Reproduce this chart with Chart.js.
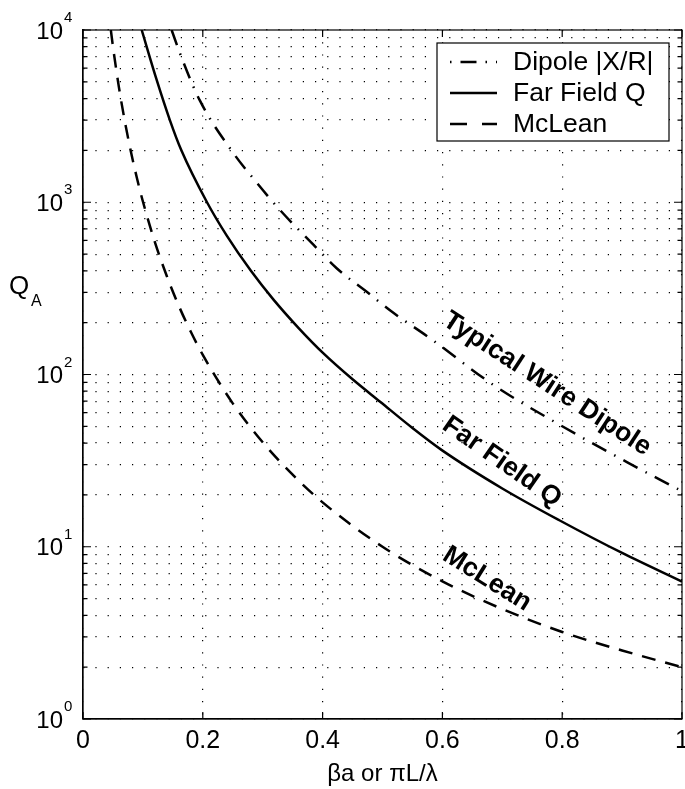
<!DOCTYPE html>
<html>
<head>
<meta charset="utf-8">
<script src="https://cdn.jsdelivr.net/npm/chart.js@4.4.1/dist/chart.umd.min.js"></script>
<style>
  html,body{margin:0;padding:0;background:#fff;}
  #wrap{width:685px;height:789px;}
</style>
</head>
<body>
<div id="wrap"><canvas id="qChart"></canvas></div>
<script>
// values (x = beta*a, y = Q on a log axis)
const dipoleX   = [0.148, 0.162, 0.195, 0.251, 0.284, 0.329, 0.385, 0.423, 0.479, 0.513, 0.582, 0.685, 0.796, 0.908, 1.0];
const dipoleQ   = [10000, 7300, 3900, 1930, 1377, 900, 565, 415, 292, 235, 160, 87, 51, 31, 21];

const farFieldX = [0.098, 0.123, 0.145, 0.164, 0.207, 0.24, 0.28, 0.318, 0.36, 0.401, 0.45, 0.496, 0.55, 0.599, 0.7, 0.796, 0.9, 1.0];
const farFieldQ = [10000, 5130, 3000, 2010, 1000, 640, 401, 272, 186, 133, 93.8, 69.5, 48.9, 36.4, 21.8, 14.2, 9.2, 6.27];

const mcleanX   = [0.0465, 0.05, 0.06, 0.07, 0.08, 0.09, 0.1, 0.12, 0.14, 0.16, 0.18, 0.2, 0.25, 0.3, 0.35, 0.4, 0.5, 0.6, 0.7, 0.8, 0.9, 1.0];
const mcleanQ   = [10000, 8020, 4646, 2930, 1966, 1383, 1010, 587, 372, 250, 177, 130, 68, 40.4, 26.2, 18.1, 10, 6.3, 4.35, 3.2, 2.5, 2.0];

const seriesNames = ["Dipole |X/R|", "Far Field Q", "McLean"];
const curveLabels = ["Typical Wire Dipole", "Far Field Q", "McLean"];

const xTicks = [0, 0.2, 0.4, 0.6, 0.8, 1];
const yMajor = [1, 10, 100, 1000, 10000];
const yExponents = ["0", "1", "2", "3", "4"];

const xTitle = "\u03b2a or \u03c0L/\u03bb";

const FONT = "'Liberation Sans', Arial, Helvetica, sans-serif";
const DASH_DOT = [16, 9, 1.5, 9];
const DASHED = [14, 10];

function toPoints(xs, ys){ return xs.map((x,i)=>({x, y: ys[i]})); }

// minor grid: 1..9 x each decade
const yGrid = [];
yMajor.forEach((m,i)=>{
  if(i === yMajor.length-1){ yGrid.push(m); return; }
  for(let k=1;k<10;k++) yGrid.push(m*k);
});

const decorPlugin = {
  id: "decor",
  afterDraw(chart){
    const {ctx, chartArea:a, scales:{x, y}} = chart;
    ctx.save();

    // box
    ctx.strokeStyle = "#000";
    ctx.lineWidth = 1.2;
    ctx.setLineDash([]);
    ctx.strokeRect(a.left, a.top, a.right-a.left, a.bottom-a.top);

    // inward ticks on all four sides
    ctx.beginPath();
    xTicks.forEach(v=>{
      const px = x.getPixelForValue(v);
      ctx.moveTo(px, a.bottom); ctx.lineTo(px, a.bottom-7);
      ctx.moveTo(px, a.top);    ctx.lineTo(px, a.top+7);
    });
    yGrid.forEach(v=>{
      const py = y.getPixelForValue(v);
      const len = yMajor.includes(v) ? 8 : 4.5;
      ctx.moveTo(a.left, py);  ctx.lineTo(a.left+len, py);
      ctx.moveTo(a.right, py); ctx.lineTo(a.right-len, py);
    });
    ctx.stroke();

    // y tick labels 10^n
    ctx.fillStyle = "#000";
    yMajor.forEach((v,i)=>{
      const py = y.getPixelForValue(v);
      ctx.font = "24px " + FONT;
      ctx.textAlign = "right";
      ctx.textBaseline = "middle";
      ctx.fillText("10", a.left-20, py+2);
      ctx.font = "15px " + FONT;
      ctx.textAlign = "left";
      ctx.fillText(yExponents[i], a.left-19, py-12);
    });

    // y axis title Q_A
    ctx.font = "26px " + FONT;
    ctx.textAlign = "left";
    ctx.textBaseline = "middle";
    ctx.fillText("Q", 9, 287);
    ctx.font = "16px " + FONT;
    ctx.fillText("A", 31, 302);

    // labels along the curves
    const labelPos = [
      {text: curveLabels[0], cx: 547, cy: 384, ang: 33},
      {text: curveLabels[1], cx: 502, cy: 462, ang: 35},
      {text: curveLabels[2], cx: 487, cy: 579, ang: 32},
    ];
    ctx.font = "bold 26.5px " + FONT;
    ctx.textAlign = "center";
    ctx.textBaseline = "middle";
    labelPos.forEach(l=>{
      ctx.save();
      ctx.translate(l.cx, l.cy);
      ctx.rotate(l.ang*Math.PI/180);
      ctx.fillText(l.text, 0, 0);
      ctx.restore();
    });

    // legend
    const lx = 437, ly = 43, lw = 232, lh = 98;
    ctx.fillStyle = "#fff";
    ctx.fillRect(lx, ly, lw, lh);
    ctx.strokeStyle = "#000";
    ctx.lineWidth = 1.2;
    ctx.strokeRect(lx, ly, lw, lh);
    const rowsY = [62, 93, 124];
    chart.data.datasets.forEach((ds,i)=>{
      ctx.save();
      ctx.strokeStyle = ds.borderColor;
      ctx.lineWidth = ds.borderWidth;
      ctx.setLineDash(i===2 ? [17, 15] : (ds.borderDash || []));
      ctx.lineDashOffset = i===0 ? 25 : 0;
      ctx.beginPath();
      ctx.moveTo(450, rowsY[i]);
      ctx.lineTo(497, rowsY[i]);
      ctx.stroke();
      ctx.restore();
      ctx.fillStyle = "#000";
      ctx.font = "26.5px " + FONT;
      ctx.textAlign = "left";
      ctx.textBaseline = "middle";
      ctx.fillText(ds.label, 513, rowsY[i]+1);
    });

    ctx.restore();
  }
};

new Chart(document.getElementById("qChart"), {
  type: "line",
  data: {
    datasets: [
      { label: seriesNames[0], data: toPoints(dipoleX, dipoleQ),
        borderColor: "#000", borderWidth: 2.5, borderDash: DASH_DOT, pointRadius: 0,
        cubicInterpolationMode: "monotone", fill: false },
      { label: seriesNames[1], data: toPoints(farFieldX, farFieldQ),
        borderColor: "#000", borderWidth: 2.5, pointRadius: 0,
        cubicInterpolationMode: "monotone", fill: false },
      { label: seriesNames[2], data: toPoints(mcleanX, mcleanQ),
        borderColor: "#000", borderWidth: 2.5, borderDash: DASHED, pointRadius: 0,
        cubicInterpolationMode: "monotone", fill: false },
    ],
  },
  options: {
    responsive: true,
    maintainAspectRatio: false,
    devicePixelRatio: 1,
    animation: false,
    layout: { padding: { top: 30, right: 3, left: 0, bottom: 0 } },
    plugins: { legend: { display: false }, tooltip: { enabled: false } },
    scales: {
      x: {
        type: "linear", min: 0, max: 1,
        afterBuildTicks: s => { s.ticks = xTicks.map(v=>({value: v})); },
        afterFit: s => { s.height = 70; s.paddingLeft = 0; s.paddingRight = 0; },
        ticks: { color: "#000", font: { family: FONT, size: 25 }, padding: 7,
                 maxRotation: 0, autoSkip: false, callback: v => String(v) },
        grid: { color: "#000", lineWidth: 1.2, drawTicks: false },
        border: { display: true, color: "#000", width: 1.2, dash: [1.2, 11] },
        title: { display: true, text: xTitle, color: "#000",
                 font: { family: FONT, size: 24 }, padding: { top: 0, bottom: 0 } },
      },
      y: {
        type: "logarithmic", min: 1, max: 10000,
        afterBuildTicks: s => { s.ticks = yGrid.map(v=>({value: v})); },
        afterFit: s => { s.width = 83; s.paddingTop = 0; s.paddingBottom = 0; },
        ticks: { display: false, autoSkip: false },
        grid: { color: "#000", lineWidth: 1.2, drawTicks: false },
        border: { display: true, color: "#000", width: 1.2, dash: [1.2, 11] },
      },
    },
  },
  plugins: [decorPlugin],
});
</script>
</body>
</html>
